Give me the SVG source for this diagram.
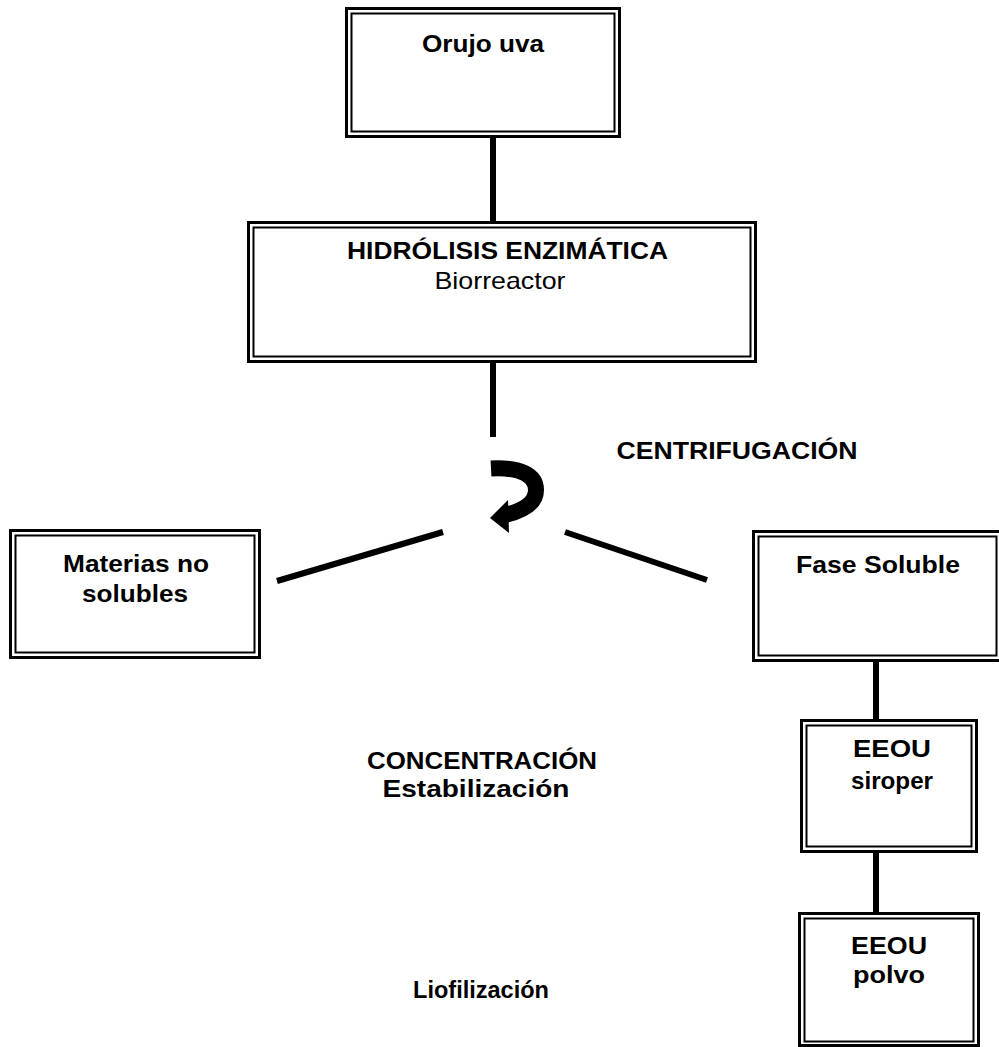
<svg xmlns="http://www.w3.org/2000/svg" width="999" height="1047" viewBox="0 0 999 1047">
<style>
.o{fill:none;stroke:#000;stroke-width:3}
.i{fill:none;stroke:#000;stroke-width:2}
.c{stroke:#000;stroke-width:6;fill:none}
.t{font-family:"Liberation Sans",Arial,sans-serif;font-size:24px;font-weight:bold;fill:#000;text-anchor:middle}
.r{font-weight:normal}
</style>
<rect width="999" height="1047" fill="#fff"/>
<g id="connectors">
<line class="c" x1="493" y1="138" x2="493" y2="221"/>
<line class="c" x1="493" y1="363" x2="493" y2="437"/>
<line class="c" x1="277" y1="581" x2="443" y2="532"/>
<line class="c" x1="565" y1="532" x2="707" y2="580"/>
<line class="c" x1="876" y1="662" x2="876" y2="719"/>
<line class="c" x1="876" y1="853" x2="876" y2="912"/>
</g>
<g id="centrifuge-arrow">
<path d="M491,468.5 C520,467 536,475 536,490 C536,504 522,511 505,515" fill="none" stroke="#000" stroke-width="16"/>
<polygon points="490,518 508,500 509,533" fill="#000"/>
</g>
<g id="orujo">
<rect class="o" x="346.5" y="8.5" width="273" height="128"/>
<rect class="i" x="351.5" y="13.5" width="263" height="118"/>
<text class="t" x="483" y="52" textLength="122" lengthAdjust="spacingAndGlyphs">Orujo uva</text>
</g>
<g id="hidrolisis">
<rect class="o" x="248.5" y="222.5" width="507" height="139"/>
<rect class="i" x="253.5" y="227.5" width="497" height="129"/>
<text class="t" x="507.5" y="259" textLength="321" lengthAdjust="spacingAndGlyphs">HIDRÓLISIS ENZIMÁTICA</text>
<text class="t r" x="500" y="289" textLength="131" lengthAdjust="spacingAndGlyphs">Biorreactor</text>
</g>
<g id="centrifugacion">
<text class="t" x="737" y="459" textLength="241" lengthAdjust="spacingAndGlyphs">CENTRIFUGACIÓN</text>
</g>
<g id="materias">
<rect class="o" x="10.5" y="530.5" width="249" height="127"/>
<rect class="i" x="15.5" y="535.5" width="239" height="117"/>
<text class="t" x="136" y="572" textLength="146" lengthAdjust="spacingAndGlyphs">Materias no</text>
<text class="t" x="135" y="602" textLength="106" lengthAdjust="spacingAndGlyphs">solubles</text>
</g>
<g id="fase-soluble">
<rect class="o" x="753.5" y="531.5" width="248" height="129"/>
<rect class="i" x="758.5" y="536.5" width="238" height="119"/>
<text class="t" x="878" y="573" textLength="164" lengthAdjust="spacingAndGlyphs">Fase Soluble</text>
</g>
<g id="concentracion">
<text class="t" x="482" y="769" textLength="230" lengthAdjust="spacingAndGlyphs">CONCENTRACIÓN</text>
<text class="t" x="476" y="797" textLength="187" lengthAdjust="spacingAndGlyphs">Estabilización</text>
</g>
<g id="eeou-siroper">
<rect class="o" x="801.5" y="720.5" width="175" height="131"/>
<rect class="i" x="806.5" y="725.5" width="165" height="121"/>
<text class="t" x="892" y="757" textLength="78" lengthAdjust="spacingAndGlyphs">EEOU</text>
<text class="t" x="892" y="789" textLength="82" lengthAdjust="spacingAndGlyphs">siroper</text>
</g>
<g id="liofilizacion">
<text class="t" x="481" y="998" textLength="136" lengthAdjust="spacingAndGlyphs">Liofilización</text>
</g>
<g id="eeou-polvo">
<rect class="o" x="799.5" y="913.5" width="179" height="132"/>
<rect class="i" x="804.5" y="918.5" width="169" height="123"/>
<text class="t" x="889" y="954" textLength="76" lengthAdjust="spacingAndGlyphs">EEOU</text>
<text class="t" x="889" y="983" textLength="72" lengthAdjust="spacingAndGlyphs">polvo</text>
</g>
</svg>
